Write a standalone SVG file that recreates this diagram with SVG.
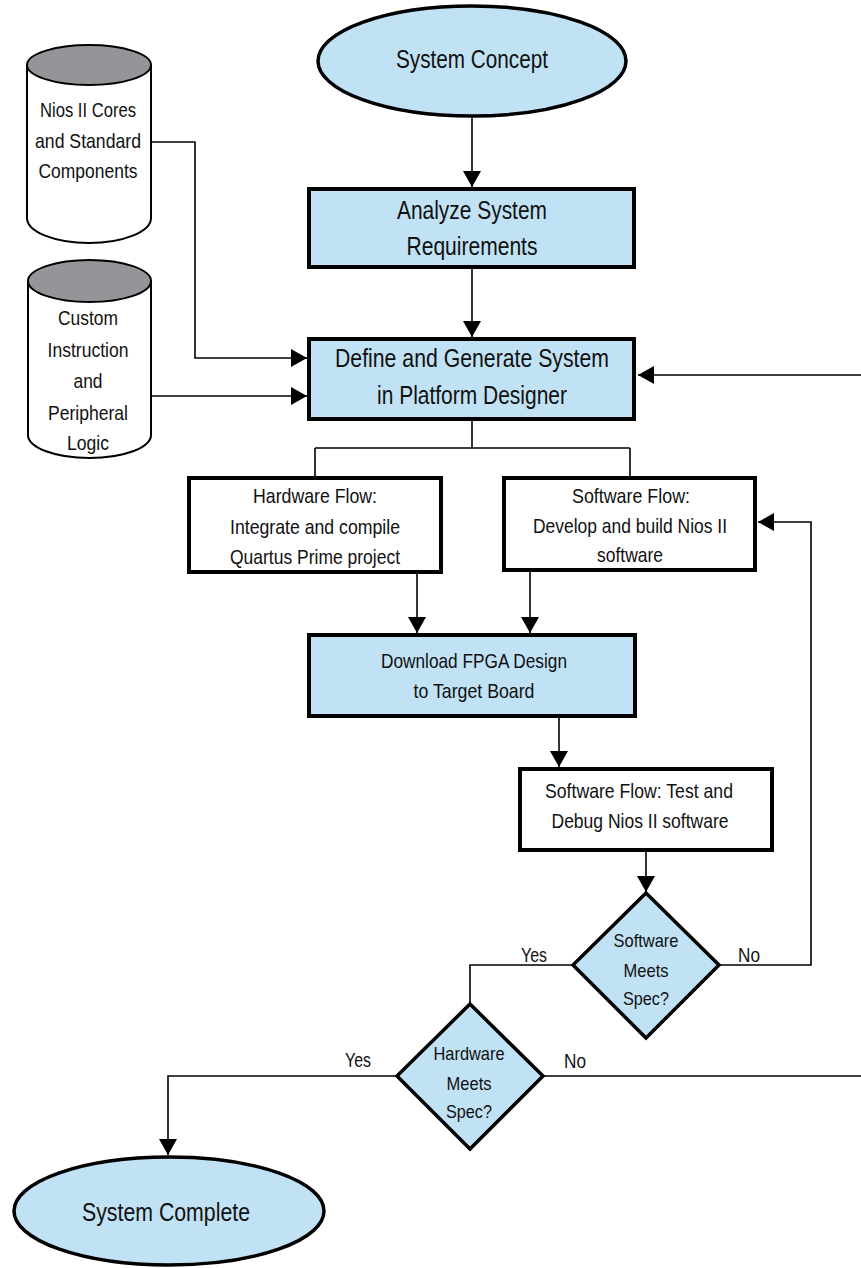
<svg xmlns="http://www.w3.org/2000/svg" width="861" height="1268" viewBox="0 0 861 1268">
<style>
text{font-family:"Liberation Sans",Arial,sans-serif;fill:#111;text-anchor:middle}
.blue{fill:#c0e2f4;stroke:#000;stroke-width:4}
.white{fill:#fff;stroke:#000;stroke-width:4}
.cyl{fill:#fff;stroke:#000;stroke-width:2}
.cap{fill:#939598;stroke:#000;stroke-width:2}
.ln{fill:none;stroke:#000;stroke-width:1.6}
.big{font-size:25px}
.mid{font-size:21px}
.sm{font-size:19px}
</style>
<defs>
<marker id="arr" viewBox="0 0 16 18" refX="16" refY="9" markerWidth="16" markerHeight="18" markerUnits="userSpaceOnUse" orient="auto">
<path d="M0,0 L16,9 L0,18 z" fill="#000"/>
</marker>
</defs>
<g id="connectors">
<path class="ln" d="M472,118 V187" marker-end="url(#arr)"/>
<path class="ln" d="M472,269 V337" marker-end="url(#arr)"/>
<path class="ln" d="M151,142 H195 V358 H307" marker-end="url(#arr)"/>
<path class="ln" d="M151,396 H307" marker-end="url(#arr)"/>
<path class="ln" d="M472,421 V448 M315,448 H630 M315,448 V476 M630,448 V476"/>
<path class="ln" d="M417,574 V633" marker-end="url(#arr)"/>
<path class="ln" d="M530,572 V633" marker-end="url(#arr)"/>
<path class="ln" d="M559,718 V767" marker-end="url(#arr)"/>
<path class="ln" d="M646,852 V892" marker-end="url(#arr)"/>
<path class="ln" d="M719,965 H811 V522 H758" marker-end="url(#arr)"/>
<path class="ln" d="M573,965 H470 V1004"/>
<path class="ln" d="M397,1076 H168 V1155" marker-end="url(#arr)"/>
<path class="ln" d="M543,1076 H861"/>
<path class="ln" d="M861,375 H638" marker-end="url(#arr)"/>
</g>
<g id="labels">
<text class="mid" x="534" y="962" textLength="26" lengthAdjust="spacingAndGlyphs">Yes</text>
<text class="mid" x="749" y="962" textLength="22" lengthAdjust="spacingAndGlyphs">No</text>
<text class="mid" x="358" y="1067" textLength="26" lengthAdjust="spacingAndGlyphs">Yes</text>
<text class="mid" x="575" y="1068" textLength="22" lengthAdjust="spacingAndGlyphs">No</text>
</g>
<g id="system-concept">
<ellipse class="blue" cx="472" cy="61" rx="154" ry="55" style="stroke-width:3.5"/>
<text class="big" x="472" y="68" textLength="152" lengthAdjust="spacingAndGlyphs">System Concept</text>
</g>
<g id="analyze">
<rect class="blue" x="309" y="189" width="325" height="78"/>
<text class="big" x="472" y="219" textLength="150" lengthAdjust="spacingAndGlyphs">Analyze System</text>
<text class="big" x="472" y="255" textLength="131" lengthAdjust="spacingAndGlyphs">Requirements</text>
</g>
<g id="define">
<rect class="blue" x="309" y="339" width="325" height="80"/>
<text class="big" x="472" y="367" textLength="274" lengthAdjust="spacingAndGlyphs">Define and Generate System</text>
<text class="big" x="472" y="404" textLength="190" lengthAdjust="spacingAndGlyphs">in Platform Designer</text>
</g>
<g id="nios-cores">
<path class="cyl" d="M27,65 V218 A62,25 0 0 0 151,218 V65"/>
<ellipse class="cap" cx="89" cy="65" rx="62" ry="20"/>
<text class="mid" x="88" y="117" textLength="96" lengthAdjust="spacingAndGlyphs">Nios II Cores</text>
<text class="mid" x="88" y="148" textLength="106" lengthAdjust="spacingAndGlyphs">and Standard</text>
<text class="mid" x="88" y="178" textLength="99" lengthAdjust="spacingAndGlyphs">Components</text>
</g>
<g id="custom-instruction">
<path class="cyl" d="M28,281 V435 A61.5,23 0 0 0 151,435 V281"/>
<ellipse class="cap" cx="89.5" cy="281" rx="61.5" ry="21"/>
<text class="mid" x="88" y="325" textLength="60" lengthAdjust="spacingAndGlyphs">Custom</text>
<text class="mid" x="88" y="357" textLength="81" lengthAdjust="spacingAndGlyphs">Instruction</text>
<text class="mid" x="88" y="388" textLength="29" lengthAdjust="spacingAndGlyphs">and</text>
<text class="mid" x="88" y="420" textLength="80" lengthAdjust="spacingAndGlyphs">Peripheral</text>
<text class="mid" x="88" y="450" textLength="42" lengthAdjust="spacingAndGlyphs">Logic</text>
</g>
<g id="hardware-flow">
<rect class="white" x="189" y="478" width="252" height="94"/>
<text class="mid" x="315" y="503" textLength="124" lengthAdjust="spacingAndGlyphs">Hardware Flow:</text>
<text class="mid" x="315" y="534" textLength="170" lengthAdjust="spacingAndGlyphs">Integrate and compile</text>
<text class="mid" x="315" y="564" textLength="170" lengthAdjust="spacingAndGlyphs">Quartus Prime project</text>
</g>
<g id="software-flow">
<rect class="white" x="504" y="478" width="251" height="92"/>
<text class="mid" x="631" y="503" textLength="118" lengthAdjust="spacingAndGlyphs">Software Flow:</text>
<text class="mid" x="630" y="533" textLength="194" lengthAdjust="spacingAndGlyphs">Develop and build Nios II</text>
<text class="mid" x="630" y="562" textLength="66" lengthAdjust="spacingAndGlyphs">software</text>
</g>
<g id="download">
<rect class="blue" x="309" y="635" width="326" height="81"/>
<text class="mid" x="474" y="668" textLength="186" lengthAdjust="spacingAndGlyphs">Download FPGA Design</text>
<text class="mid" x="474" y="698" textLength="121" lengthAdjust="spacingAndGlyphs">to Target Board</text>
</g>
<g id="test-debug">
<rect class="white" x="520" y="769" width="252" height="81"/>
<text class="mid" x="639" y="798" textLength="188" lengthAdjust="spacingAndGlyphs">Software Flow: Test and</text>
<text class="mid" x="640" y="828" textLength="177" lengthAdjust="spacingAndGlyphs">Debug Nios II software</text>
</g>
<g id="software-meets">
<polygon class="blue" points="646,893 719,965 646,1038 573,965" style="stroke-width:3.5"/>
<text class="sm" x="646" y="947" textLength="65" lengthAdjust="spacingAndGlyphs">Software</text>
<text class="sm" x="646" y="977" textLength="45" lengthAdjust="spacingAndGlyphs">Meets</text>
<text class="sm" x="646" y="1005" textLength="46" lengthAdjust="spacingAndGlyphs">Spec?</text>
</g>
<g id="hardware-meets">
<polygon class="blue" points="470,1004 543,1076 470,1149 397,1076" style="stroke-width:3.5"/>
<text class="sm" x="469" y="1060" textLength="71" lengthAdjust="spacingAndGlyphs">Hardware</text>
<text class="sm" x="469" y="1090" textLength="45" lengthAdjust="spacingAndGlyphs">Meets</text>
<text class="sm" x="469" y="1118" textLength="46" lengthAdjust="spacingAndGlyphs">Spec?</text>
</g>
<g id="system-complete">
<ellipse class="blue" cx="169" cy="1211" rx="155" ry="54" style="stroke-width:3.5"/>
<text class="big" x="166" y="1221" textLength="168" lengthAdjust="spacingAndGlyphs">System Complete</text>
</g>
</svg>
